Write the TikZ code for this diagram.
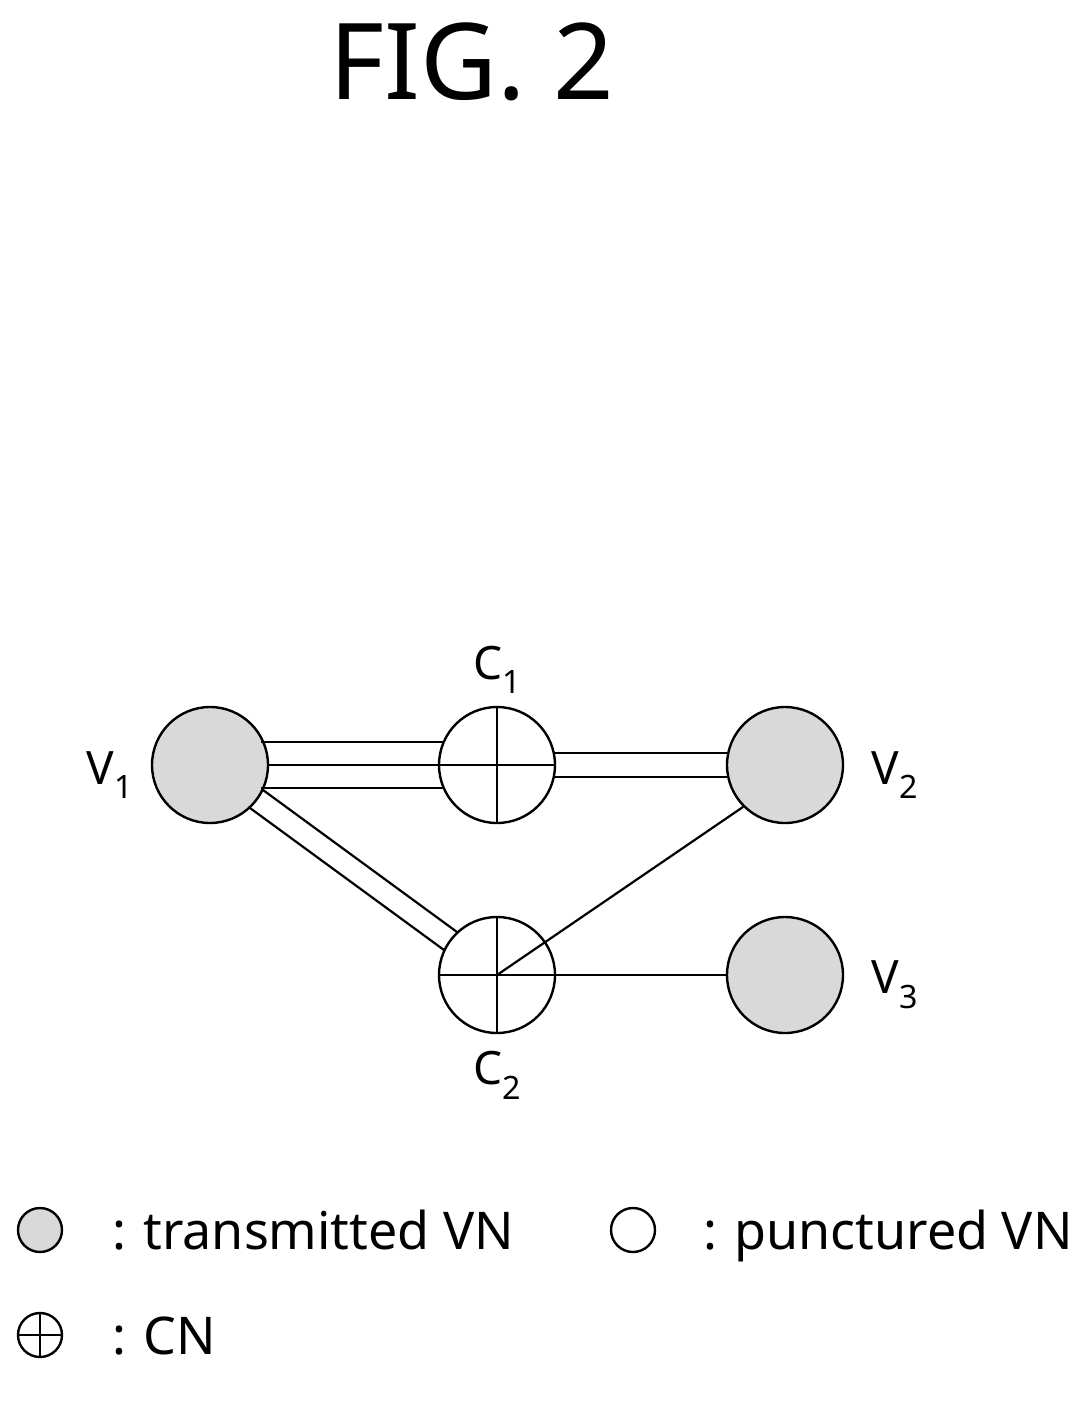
\documentclass[tikz,border=0pt]{standalone}
\usepackage{fontspec}
\setmainfont{Noto Sans}
\usetikzlibrary{calc}
\begin{document}
\begin{tikzpicture}[x=1pt,y=-1pt,
  vn/.style={circle,draw,line width=2.4pt,minimum size=116pt,inner sep=0pt,fill=gray!30},
  cn/.style={circle,draw,line width=2.4pt,minimum size=116pt,inner sep=0pt},
  ln/.style={line width=2.2pt},
  lab/.style={font=\fontsize{46}{50}\selectfont,inner sep=0pt},
  leg/.style={font=\fontsize{52}{58}\selectfont,inner sep=0pt,anchor=base west}]
\useasboundingbox (0,0) rectangle (1087,1407);
\node[font=\fontsize{106}{120}\selectfont] (fig) at (472,62) {FIG. 2};
\node[vn] (v1) at (210,765) {};
\node[cn] (c1) at (497,765) {};
\node[vn] (v2) at (785,765) {};
\node[cn] (c2) at (497,975) {};
\node[vn] (v3) at (785,975) {};
\foreach \n in {c1,c2}{
  \draw[ln] (\n.north) -- (\n.south);
  \draw[ln] (\n.west) -- (\n.east);}
\draw[ln] ($(v1)+(51,-23)$) -- ($(c1)+(-53,-23)$);
\draw[ln] (v1.east) -- (c1.west);
\draw[ln] ($(v1)+(51,23)$) -- ($(c1)+(-53,23)$);
\draw[ln] ($(c1)+(57,-12)$) -- ($(v2)+(-57,-12)$);
\draw[ln] ($(c1)+(57,12)$) -- ($(v2)+(-57,12)$);
\draw[ln] ($(v1)+(53,25)$) -- ($(c2)+(-40,-43)$);
\draw[ln] ($(v1)+(40,43)$) -- ($(c2)+(-53,-25)$);
\draw[ln] (c2.center) -- (v2.south west);
\draw[ln] (c2.east) -- (v3.west);
\node[lab] (lv1) at (110,775) {V\textsubscript{1}};
\node[lab] (lc1) at (497,670) {C\textsubscript{1}};
\node[lab] (lv2) at (895,775) {V\textsubscript{2}};
\node[lab] (lv3) at (895,985) {V\textsubscript{3}};
\node[lab] (lc2) at (497,1075) {C\textsubscript{2}};
\node[circle,draw,line width=2.4pt,minimum size=44pt,inner sep=0pt,fill=gray!30] (l1) at (40,1230) {};
\node[leg] (t1) at (112,1249) {:\,\,transmitted VN};
\node[circle,draw,line width=2.4pt,minimum size=44pt,inner sep=0pt] (l2) at (633,1230) {};
\node[leg] (t2) at (703,1249) {:\,\,punctured VN};
\node[circle,draw,line width=2.4pt,minimum size=44pt,inner sep=0pt] (l3) at (40,1335) {};
\draw[line width=2pt] (l3.north) -- (l3.south) (l3.west) -- (l3.east);
\node[leg] (t3) at (112,1354) {:\,\,CN};
\end{tikzpicture}
\end{document}
